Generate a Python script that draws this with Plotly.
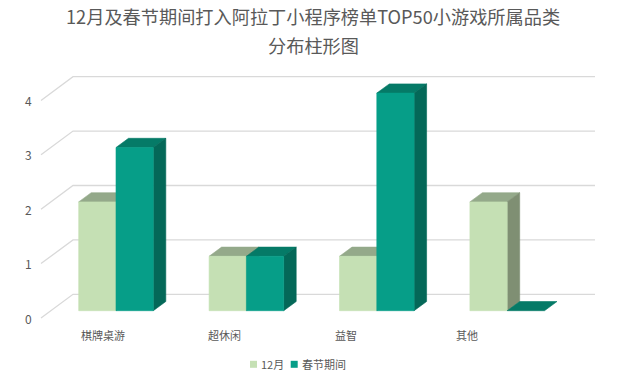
import plotly.graph_objects as go

# ---- data ----
categories = ["棋牌桌游", "超休闲", "益智", "其他"]
dec_values = [2, 1, 1, 2]
spring_values = [3, 1, 4, 0]
series_names = ["12月", "春节期间"]
y_ticks = [0, 1, 2, 3, 4]
title_lines = ["12月及春节期间打入阿拉丁小程序榜单TOP50小游戏所属品类", "分布柱形图"]

# ---- layout geometry (pixels -> data units) ----
W, H = 626, 381
X0_PX, X_UNIT_PX = 116.0, 130.4
Y0_PX, Y_UNIT_PX = 310.7, 54.4
x_range = [-X0_PX / X_UNIT_PX, (W - X0_PX) / X_UNIT_PX]
y_range = [(Y0_PX - H) / Y_UNIT_PX, Y0_PX / Y_UNIT_PX]


def px_x(p):
    return (p - X0_PX) / X_UNIT_PX


def px_y(p):
    return (Y0_PX - p) / Y_UNIT_PX


BAR_W = 37.3 / X_UNIT_PX
DX = 12.5 / X_UNIT_PX
DY = 9.2 / Y_UNIT_PX
BACK_DY = 16.4 / Y_UNIT_PX
FRONT_DY = -7.3 / Y_UNIT_PX
GRID_BACK_LEFT = px_x(73)
GRID_RIGHT = px_x(595)
GRID_FRONT_LEFT = px_x(41)

FONT = "Noto Sans CJK SC, Noto Sans, sans-serif"
TEXT_COLOR = "#595959"
GRID_COLOR = "#D9D9D9"

palettes = [
    dict(front="#C5E0B4", top="#94A98A", side="#7F8F73"),
    dict(front="#069E88", top="#057A67", side="#046858"),
]

fig = go.Figure()

# gridlines (back wall + left floor diagonal)
gx, gy = [], []
for v in y_ticks:
    gx += [GRID_FRONT_LEFT, GRID_BACK_LEFT, GRID_RIGHT, None]
    gy += [v + FRONT_DY, v + BACK_DY, v + BACK_DY, None]
fig.add_trace(go.Scatter(x=gx, y=gy, mode="lines",
                         line=dict(color=GRID_COLOR, width=1.3),
                         hoverinfo="skip", showlegend=False))


def add_poly(xs, ys, color):
    fig.add_trace(go.Scatter(x=xs + [xs[0]], y=ys + [ys[0]], mode="lines",
                             fill="toself", fillcolor=color,
                             line=dict(color=color, width=0.6),
                             hoverinfo="skip", showlegend=False))


series = [dec_values, spring_values]
for i, cat in enumerate(categories):
    for s, vals in enumerate(series):
        v = vals[i]
        pal = palettes[s]
        xl = i - BAR_W + s * BAR_W
        xr_ = xl + BAR_W
        # top face
        add_poly([xl, xr_, xr_ + DX, xl + DX], [v, v, v + DY, v + DY], pal["top"])
        if v > 0:
            # side face
            add_poly([xr_, xr_ + DX, xr_ + DX, xr_], [0, DY, v + DY, v], pal["side"])
            # front face
            add_poly([xl, xr_, xr_, xl], [0, 0, v, v], pal["front"])

annotations = []
# y tick labels
for v in y_ticks:
    annotations.append(dict(x=px_x(28), y=v + FRONT_DY, xref="x", yref="y",
                            text=str(v), showarrow=False, xanchor="center",
                            yanchor="middle",
                            font=dict(family=FONT, size=12, color=TEXT_COLOR)))
# category labels
for i, cat in enumerate(categories):
    annotations.append(dict(x=px_x(103.3 + 121.3 * i), y=px_y(335), xref="x", yref="y",
                            text=cat, showarrow=False, xanchor="center",
                            yanchor="middle",
                            font=dict(family=FONT, size=11, color=TEXT_COLOR)))
# title
for k, line in enumerate(title_lines):
    annotations.append(dict(x=313 / W, y=1 - (16.0 + 29 * k) / H, xref="paper", yref="paper",
                            text=line, showarrow=False, xanchor="center", yanchor="middle",
                            font=dict(family=FONT, size=18.2, color=TEXT_COLOR)))

# legend (manual)
shapes = []
legend_items = [(250, 259), (290.7, 300)]
for s, (sq_x, tx) in enumerate(legend_items):
    shapes.append(dict(type="rect", xref="paper", yref="paper",
                       x0=sq_x / W, x1=(sq_x + 7) / W,
                       y0=1 - 367.8 / H, y1=1 - 360.8 / H,
                       fillcolor=palettes[s]["front"], line=dict(width=0)))
    annotations.append(dict(x=tx / W, y=1 - 364.3 / H, xref="paper", yref="paper",
                            text=series_names[s], showarrow=False, xanchor="left",
                            yanchor="middle",
                            font=dict(family=FONT, size=11, color=TEXT_COLOR)))

fig.update_layout(
    width=W, height=H,
    margin=dict(l=0, r=0, t=0, b=0),
    paper_bgcolor="white", plot_bgcolor="white",
    xaxis=dict(range=x_range, visible=False, fixedrange=True),
    yaxis=dict(range=y_range, visible=False, fixedrange=True),
    showlegend=False,
    annotations=annotations,
    shapes=shapes,
)

fig.write_html(
    "out.html",
    config={"displayModeBar": False},
    post_script="document.body.style.margin='0px';document.body.style.overflow='hidden';",
)
